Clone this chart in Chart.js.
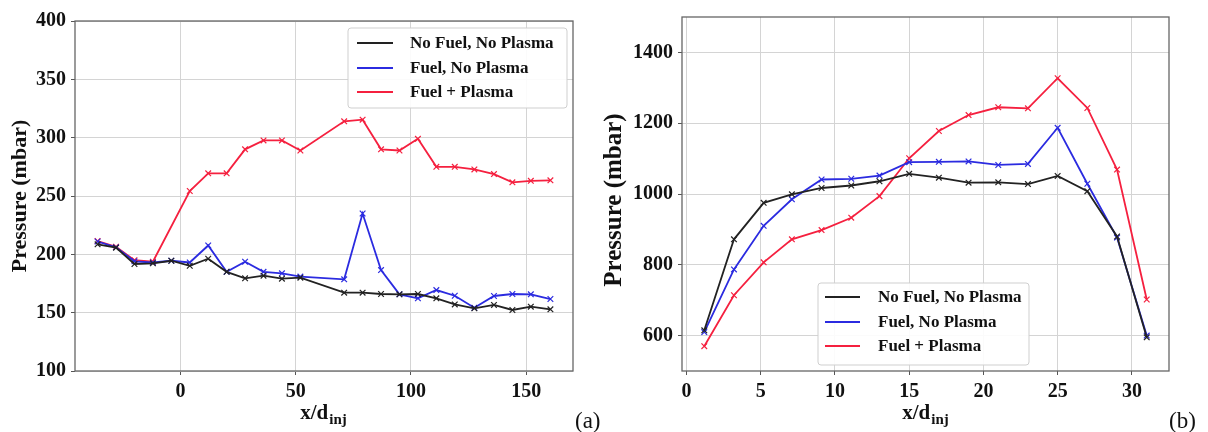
<!DOCTYPE html>
<html>
<head>
<meta charset="utf-8">
<script src="https://cdn.jsdelivr.net/npm/chart.js@4.4.0/dist/chart.umd.min.js"></script>
<style>
body { margin: 0; background: #fff; width: 1208px; height: 432px; overflow: hidden; position: relative; }
canvas { position: absolute; top: 0; }
</style>
</head>
<body>
<canvas id="chartA" width="600" height="432" style="left:0"></canvas>
<canvas id="chartB" width="608" height="432" style="left:600px"></canvas>
<script>
// 图 (a) 数据
const labels = ['No Fuel, No Plasma', 'Fuel, No Plasma', 'Fuel + Plasma'];
const xA = [-36, -28, -20, -12, -4, 4, 12, 20, 28, 36, 44, 52, 71, 79, 87, 95, 103, 111, 119, 127.5, 136, 144, 152, 160.5];
const noFuelA = [208.6, 205.7, 191.7, 192.3, 194.5, 190.2, 196.2, 185, 179.4, 181.7, 179.1, 180, 167.1, 167.1, 166, 165.7, 166, 162.3, 157.1, 153.7, 156.6, 152.3, 155.1, 152.9];
const fuelA = [211, 206, 194, 193, 194.5, 193, 207.6, 185, 193.7, 185, 183.7, 180.9, 178.6, 235, 186.5, 165.7, 162.3, 169.4, 164.5, 154.2, 164.3, 166, 165.7, 161.7];
const plasmaA = [211.4, 206.5, 195, 193.7, null, 254.3, 269.4, 269.4, 290, 297.6, 297.6, 289, 314, 315.4, 290, 289, 299, 275, 275, 272.8, 268.8, 261.7, 263, 263.4];
const xTicksA = [0, 50, 100, 150];
const yTicksA = [100, 150, 200, 250, 300, 350, 400];

// 图 (b) 数据
const xB = [1.2, 3.2, 5.2, 7.1, 9.1, 11.1, 13, 15, 17, 19, 21, 23, 25, 27, 29, 31];
const noFuelB = [615, 872, 975, 999, 1017, 1024, 1036, 1057, 1046, 1032, 1033, 1028, 1051, 1008, 880, 595];
const fuelB = [610, 787, 910, 985, 1041, 1043, 1052, 1090, 1091, 1092, 1082, 1085, 1187, 1029, 877, 600];
const plasmaB = [570, 714, 807, 872, 898, 933, 994, 1101, 1178, 1223, 1245, 1242, 1327, 1243, 1069, 702];
const xTicksB = [0, 5, 10, 15, 20, 25, 30];
const yTicksB = [600, 800, 1000, 1200, 1400];

const colors = ['#222222', '#2b2be0', '#f5203f'];
const serif = '"Liberation Serif", "Times New Roman", serif';

function makeSet(i, xs, ys) {
    return {
        label: labels[i],
        data: xs.map((x, k) => ({ x: x, y: ys[k] })),
        borderColor: colors[i],
        backgroundColor: colors[i],
        borderWidth: 1.8,
        pointStyle: 'crossRot',
        pointRadius: 4,
        pointBorderWidth: 1.2,
        spanGaps: true,
        tension: 0
    };
}

// 标题、图例、边框
const deco = {
    id: 'deco',
    afterDraw(chart, args, o) {
        const ctx = chart.ctx;
        const a = chart.chartArea;
        ctx.save();
        // 边框
        ctx.strokeStyle = '#666';
        ctx.lineWidth = 1.3;
        ctx.strokeRect(a.left, a.top, a.right - a.left, a.bottom - a.top);

        // 图例
        const L = o.legend;
        ctx.fillStyle = 'rgba(255,255,255,0.9)';
        ctx.strokeStyle = '#cfcfcf';
        ctx.lineWidth = 1;
        ctx.beginPath();
        ctx.roundRect(L.x, L.y, L.w, L.h, 3);
        ctx.fill();
        ctx.stroke();
        ctx.font = 'bold 17px ' + serif;
        ctx.textBaseline = 'middle';
        ctx.textAlign = 'left';
        chart.data.datasets.forEach((ds, i) => {
            const yy = L.rows[i];
            ctx.strokeStyle = ds.borderColor;
            ctx.lineWidth = 2;
            ctx.beginPath();
            ctx.moveTo(L.x1, yy);
            ctx.lineTo(L.x2, yy);
            ctx.stroke();
            ctx.fillStyle = '#111';
            ctx.fillText(ds.label, L.tx, yy + 1);
        });

        // y 轴标题
        ctx.fillStyle = '#111';
        ctx.save();
        ctx.translate(o.yTitle.x, o.yTitle.y);
        ctx.rotate(-Math.PI / 2);
        ctx.font = 'bold ' + o.yTitle.size + 'px ' + serif;
        ctx.textAlign = 'center';
        ctx.textBaseline = 'middle';
        ctx.fillText('Pressure (mbar)', 0, 0);
        ctx.restore();

        // x 轴标题 x/d_inj
        ctx.textBaseline = 'alphabetic';
        ctx.textAlign = 'left';
        ctx.font = 'bold 21px ' + serif;
        const w1 = ctx.measureText('x/d').width;
        ctx.font = 'bold 15px ' + serif;
        const w2 = ctx.measureText('inj').width;
        const sx = o.xTitle.x - (w1 + w2) / 2;
        ctx.font = 'bold 21px ' + serif;
        ctx.fillText('x/d', sx, o.xTitle.y);
        ctx.font = 'bold 15px ' + serif;
        ctx.fillText('inj', sx + w1 + 1, o.xTitle.y + 5);

        // 面板标签
        ctx.font = '23px ' + serif;
        ctx.fillText(o.panel.text, o.panel.x, o.panel.y);
        ctx.restore();
    }
};

function makeScales(xmin, xmax, ymin, ymax, xt, yt, yw) {
    const tickFont = { family: serif, size: 20, weight: 'bold' };
    return {
        x: {
            type: 'linear',
            min: xmin,
            max: xmax,
            afterBuildTicks: s => { s.ticks = xt.map(v => ({ value: v })); },
            afterFit: s => { s.height = 61; },
            grid: { color: '#d4d4d4', lineWidth: 1, tickLength: 4, tickColor: '#555' },
            border: { display: false },
            ticks: { font: tickFont, color: '#111', padding: 5, maxRotation: 0, callback: v => String(v) }
        },
        y: {
            type: 'linear',
            min: ymin,
            max: ymax,
            afterBuildTicks: s => { s.ticks = yt.map(v => ({ value: v })); },
            afterFit: s => { s.width = yw; },
            grid: { color: '#d4d4d4', lineWidth: 1, tickLength: 4, tickColor: '#555' },
            border: { display: false },
            ticks: { font: tickFont, color: '#111', padding: 5, callback: v => String(v) }
        }
    };
}

new Chart(document.getElementById('chartA'), {
    type: 'line',
    data: { datasets: [makeSet(0, xA, noFuelA), makeSet(1, xA, fuelA), makeSet(2, xA, plasmaA)] },
    options: {
        responsive: false,
        animation: false,
        layout: { padding: { left: 0, right: 27, top: 21, bottom: 0 } },
        scales: makeScales(-45.8, 170.3, 100, 400, xTicksA, yTicksA, 75),
        plugins: {
            legend: { display: false },
            tooltip: { enabled: false },
            deco: {
                legend: { x: 348, y: 28, w: 219, h: 80, x1: 357, x2: 393, tx: 410, rows: [43, 68, 92] },
                yTitle: { x: 20, y: 196, size: 22 },
                xTitle: { x: 323, y: 419 },
                panel: { text: '(a)', x: 575, y: 428 }
            }
        }
    },
    plugins: [deco]
});

new Chart(document.getElementById('chartB'), {
    type: 'line',
    data: { datasets: [makeSet(0, xB, noFuelB), makeSet(1, xB, fuelB), makeSet(2, xB, plasmaB)] },
    options: {
        responsive: false,
        animation: false,
        layout: { padding: { left: 0, right: 39, top: 14, bottom: 0 } },
        scales: makeScales(-0.3, 32.5, 500, 1500, xTicksB, yTicksB, 82),
        plugins: {
            legend: { display: false },
            tooltip: { enabled: false },
            deco: {
                legend: { x: 218, y: 283, w: 211, h: 82, x1: 225, x2: 260, tx: 278, rows: [297, 322, 346] },
                yTitle: { x: 15, y: 200, size: 25 },
                xTitle: { x: 325, y: 419 },
                panel: { text: '(b)', x: 569, y: 428 }
            }
        }
    },
    plugins: [deco]
});
</script>
</body>
</html>
